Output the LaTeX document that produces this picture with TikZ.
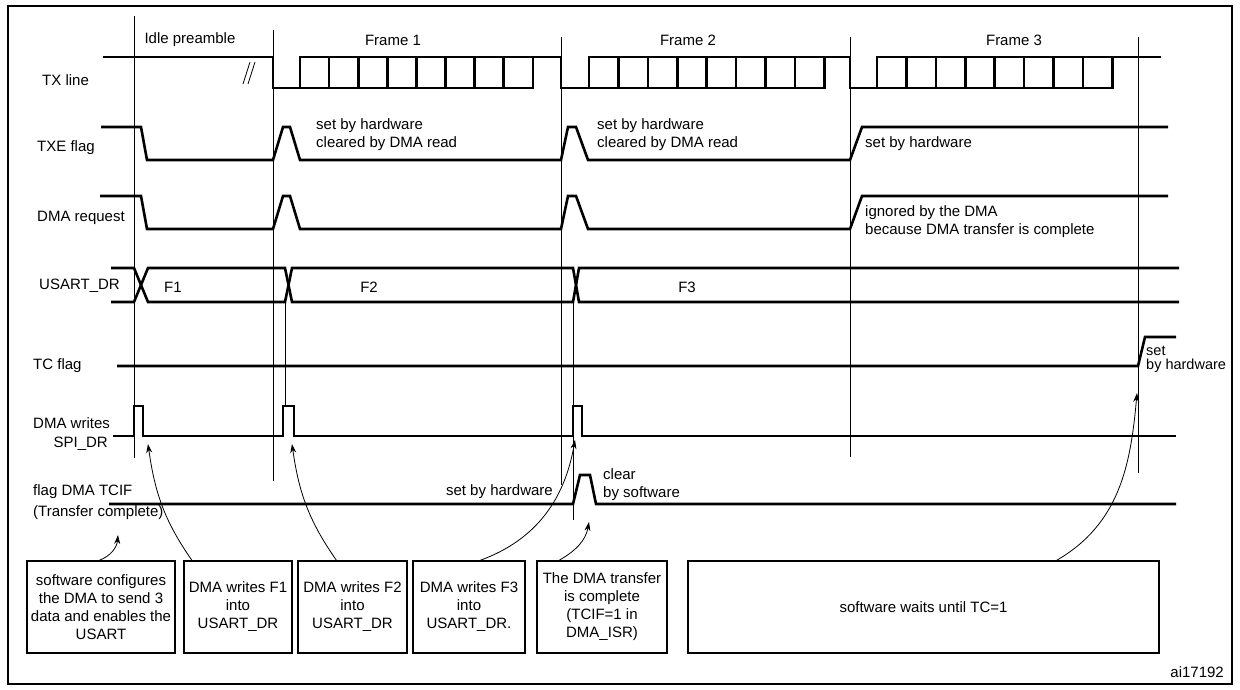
\documentclass[tikz,border=0pt]{standalone}
\usepackage{fontspec}
\setmainfont{Liberation Sans}
\usetikzlibrary{arrows.meta,positioning}
\tikzstyle{sig} = [line width=2.6pt, line join=miter]
\tikzstyle{tmark} = [line width=0.8pt]
\tikzstyle{lbl} = [anchor=west, inner sep=0pt]
\tikzstyle{note} = [anchor=west, inner sep=0pt, align=left]
\tikzstyle{stepbox} = [rectangle, draw=black, line width=1.2pt, minimum height=92pt, align=center, inner sep=0pt]
\tikzstyle{arrow} = [line width=0.8pt, -{Stealth[length=9pt,width=6pt]}]

\begin{document}
\begin{tikzpicture}[x=1pt, y=-1pt, font=\fontsize{15}{18}\selectfont]
\useasboundingbox (0,0) rectangle (1240,690);
\draw[line width=1.2pt] (8,6) rectangle (1232,684);
% time markers
\draw[tmark] (134,16) -- (134,458);
\draw[tmark] (273,30) -- (273,481);
\draw[tmark] (285,302) -- (285,406);
\draw[tmark] (561,37) -- (561,485);
\draw[tmark] (573,302) -- (573,520);
\draw[tmark] (850,37) -- (850,457);
\draw[tmark] (1138,37) -- (1138,473);
% headings
\node (idle) at (190,40) {Idle preamble};
\node (fr1) at (393,40) {Frame 1};
\node (fr2) at (688,40) {Frame 2};
\node (fr3) at (1014,40) {Frame 3};
% TX line
\draw[sig] (103,57) -- (273,57) -- (273,88) -- (300,88);
\foreach \i in {0,...,7} \draw[sig] ({300+29.1*\i},57) rectangle ++(29.1,31);
\draw[sig] (533,57) -- (561,57) -- (561,88) -- (589,88);
\foreach \i in {0,...,7} \draw[sig] ({589+29.4*\i},57) rectangle ++(29.4,31);
\draw[sig] (824,57) -- (850,57) -- (850,88) -- (877,88);
\foreach \i in {0,...,7} \draw[sig] ({877+29.4*\i},57) rectangle ++(29.4,31);
\draw[sig] (1112,57) -- (1161,57);
\draw[tmark] (243,84) -- (250,62) (248,84) -- (255,62);
% TXE flag
\draw[sig] (101,127) -- (141,127) -- (147,160) -- (273,160) -- (283,127) -- (290,127) -- (300,160)
  -- (561,160) -- (568,127) -- (576,127) -- (588,160) -- (850,160) -- (862,127) -- (1168,127);
% DMA request
\draw[sig] (100,196) -- (141,196) -- (147,229) -- (273,229) -- (283,196) -- (290,196) -- (300,229)
  -- (561,229) -- (568,196) -- (576,196) -- (588,229) -- (850,229) -- (862,196) -- (1168,196);
% USART_DR
\draw[sig] (111,268) -- (134,268) -- (148,302) -- (285,302) -- (292,268) -- (573,268) -- (579,302) -- (1179,302);
\draw[sig] (111,302) -- (134,302) -- (148,268) -- (285,268) -- (292,302) -- (573,302) -- (579,268) -- (1179,268);
% TC flag
\draw[sig] (117,366) -- (1138,366) -- (1145,337) -- (1176,337);
% DMA writes SPI_DR
\draw[sig] (113,436) -- (134,436) -- (134,406) -- (143,406) -- (143,436) -- (283,436) -- (283,406) -- (294,406)
  -- (294,436) -- (573,436) -- (573,406) -- (582,406) -- (582,436) -- (1176,436);
% DMA TCIF
\draw[sig] (109,504) -- (573,504) -- (580,475) -- (590,475) -- (596,504) -- (1176,504);
% signal names
\node[lbl] (ltx) at (42,80) {TX line};
\node[lbl] (ltxe) at (37,148) {TXE flag};
\node[lbl] (lreq) at (37,218) {DMA request};
\node[lbl] (ldr) at (39,286) {USART\_DR};
\node[lbl] (ltc) at (33,366) {TC flag};
\node[lbl] (lwr) at (33,423) {DMA writes};
\node[anchor=east, inner sep=0pt] (lspi) at (108,444) {SPI\_DR};
\node[lbl] (ltcif) at (33,492) {flag DMA TCIF};
\node[lbl] (ltcif2) at (33,513) {(Transfer complete)};
% data and notes
\node (f1) at (173,287) {F1};
\node (f2) at (369,287) {F2};
\node (f3) at (687,287) {F3};
\node[note] (n1) at (316,135) {set by hardware\\cleared by DMA read};
\node[note] (n2) at (597,135) {set by hardware\\cleared by DMA read};
\node[note] (n3) at (865,144) {set by hardware};
\node[note] (n4) at (865,222) {ignored by the DMA\\because DMA transfer is complete};
\node[note, font=\fontsize{14.5}{14}\selectfont] (n5) at (1146,359) {set\\by hardware};
\node[anchor=east, inner sep=0pt] (n6) at (553,492) {set by hardware};
\node[note] (n7) at (603,485) {clear\\by software};
\node[anchor=east, inner sep=0pt] (ai) at (1224,672) {ai17192};
% steps
\node[stepbox, minimum width=148pt] (b1) at (101,607) {software configures\\the DMA to send 3\\data and enables the\\USART};
\node[stepbox, minimum width=108pt] (b2) at (238,607) {DMA writes F1\\into\\USART\_DR};
\node[stepbox, minimum width=109pt] (b3) at (352.5,607) {DMA writes F2\\into\\USART\_DR};
\node[stepbox, minimum width=112pt] (b4) at (469,607) {DMA writes F3\\into\\USART\_DR.};
\node[stepbox, minimum width=130pt] (b5) at (602,607) {The DMA transfer\\is complete\\(TCIF=1 in\\DMA\_ISR)};
\node[stepbox, minimum width=471pt] (b6) at (923.5,607) {software waits until TC=1};
% pointers
\coordinate (p1) at (118,535);
\coordinate (p2) at (148,444);
\coordinate (p3) at (292,444);
\coordinate (p4) at (575,440);
\coordinate (p5) at (589,522);
\coordinate (p6) at (1137,393);
\draw[arrow] ([xshift=-2pt]b1.north) to[out=20, in=-95] (p1);
\draw[arrow] ([xshift=-46pt]b2.north) to[out=125, in=-82] (p2);
\draw[arrow] ([xshift=-16pt]b3.north) to[out=125, in=-82] (p3);
\draw[arrow] ([xshift=11pt]b4.north) to[out=20, in=-100] (p4);
\draw[arrow] ([xshift=-43pt]b5.north) to[out=30, in=-100] (p5);
\draw[arrow] ([xshift=133pt]b6.north) to[out=30, in=-95] (p6);
\end{tikzpicture}
\end{document}
